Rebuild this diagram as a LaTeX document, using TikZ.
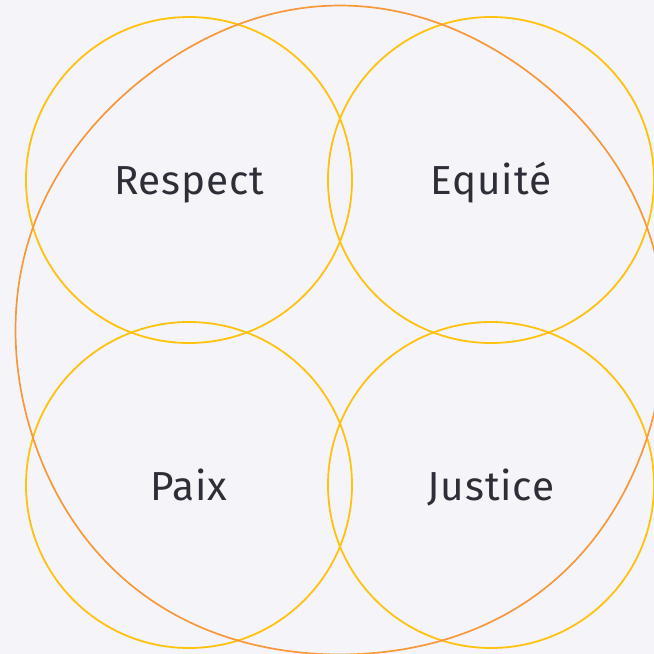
\documentclass[tikz,border=0pt]{standalone}
\usepackage{fontspec}
\setmainfont{Fira Sans}[LetterSpace=2]
\definecolor{bgc}{HTML}{F5F5F9}
\definecolor{ylw}{HTML}{FFC20E}
\definecolor{org}{HTML}{F7993A}
\definecolor{txt}{HTML}{2E2E38}
\tikzset{
  valuecircle/.style={circle, draw=ylw, line width=1.8pt, minimum size=326pt, inner sep=0pt},
  valuetext/.style={anchor=base, inner sep=0pt, text=txt, font=\fontsize{40.5}{44}\selectfont},
  blob/.style={draw=org, line width=1.7pt}
}
\begin{document}
\begin{tikzpicture}[x=1pt,y=-1pt]
\fill[bgc] (0,0) rectangle (654,654);
\useasboundingbox (0,0) rectangle (654,654);
\node[valuecircle] (respect) at (189,180) {};
\node[valuecircle] (equite) at (491,180) {};
\node[valuecircle] (paix) at (189,485) {};
\node[valuecircle] (justice) at (491,485) {};
\node[valuetext] (trespect) at (189,194) {Respect};
\node[valuetext] (tequite) at (491,194) {Equité};
\node[valuetext] (tpaix) at (189,500) {Paix};
\node[valuetext] (tjustice) at (491,500) {Justice};
\draw[blob] plot[domain=0:360, samples=145, smooth cycle, variable=\t]
  ({340+(324.5-7*sin(\t)*sin(2*\t)*sin(2*\t))*cos(\t)},
   {330-(324.5-7*sin(\t)*sin(2*\t)*sin(2*\t))*sin(\t)});
\end{tikzpicture}
\end{document}
